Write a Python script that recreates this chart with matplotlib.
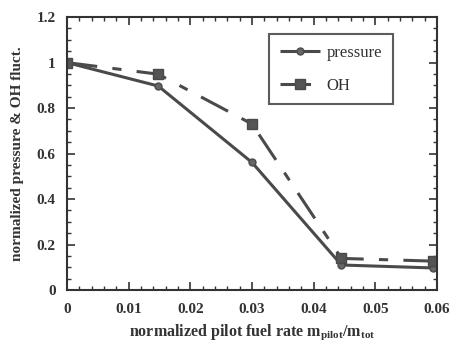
import matplotlib
matplotlib.use("Agg")
import matplotlib.pyplot as plt
from matplotlib.ticker import MultipleLocator

x_pressure = [0.0, 0.0148, 0.0300, 0.0445, 0.0594]
y_pressure = [1.0, 0.897, 0.561, 0.110, 0.097]
x_oh = [0.0, 0.0148, 0.0300, 0.0445, 0.0594]
y_oh = [1.0, 0.949, 0.730, 0.139, 0.127]

plt.rcParams['font.family'] = ['Liberation Serif', 'DejaVu Serif']
plt.rcParams['font.weight'] = 'bold'

fig = plt.figure(figsize=(4.52, 3.42), dpi=100)
ax = fig.add_axes([0.148, 0.152, 0.819, 0.798])

c = '#4a4a4a'
ax.plot(x_pressure, y_pressure, color=c, lw=2.2, marker='o', ms=5,
        mfc='#666666', mec=c, label='pressure', solid_capstyle='butt')
ax.plot(x_oh, y_oh, color=c, lw=2.2, marker='s', ms=7, mfc='#555555', mec=c,
        dashes=(10, 5, 3, 5), label='OH')

ax.set_xlim(0, 0.06)
ax.set_ylim(0, 1.2)
ax.xaxis.set_minor_locator(MultipleLocator(0.002))
ax.yaxis.set_minor_locator(MultipleLocator(0.05))
ax.set_xticks([0, 0.01, 0.02, 0.03, 0.04, 0.05, 0.06])
ax.set_xticklabels(['0', '0.01', '0.02', '0.03', '0.04', '0.05', '0.06'])
ax.set_yticks([0, 0.2, 0.4, 0.6, 0.8, 1.0, 1.2])
ax.set_yticklabels(['0', '0.2', '0.4', '0.6', '0.8', '1', '1.2'])
ax.tick_params(which='both', direction='in', top=True, right=True, colors='#333333',
               labelsize=11, labelcolor='#333333')
ax.tick_params(which='major', length=6, width=1.2)
ax.tick_params(axis='x', which='major', pad=9)
ax.tick_params(axis='y', which='major', pad=8)
ax.tick_params(which='minor', length=3, width=1)
for s in ax.spines.values():
    s.set_linewidth(1.5)
    s.set_color('#333333')

ax.set_xlabel('normalized pilot fuel rate m$_{\\mathregular{pilot}}$/m$_{\\mathregular{tot}}$',
              fontsize=11.5, fontweight='bold', color='#333333', labelpad=5)
ax.set_ylabel('normalized pressure & OH fluct.', fontsize=11, fontweight='bold',
              color='#333333', labelpad=9)

leg = ax.legend(loc='upper left', bbox_to_anchor=(269 / 452, 1 - 34 / 342),
                bbox_transform=fig.transFigure, fontsize=12,
                frameon=True, fancybox=False, edgecolor='#333333', handlelength=2.4,
                labelspacing=1.0, borderpad=0.65, handletextpad=0.4, borderaxespad=0)
leg.get_frame().set_linewidth(1.5)
for t in leg.get_texts():
    t.set_fontweight('normal')
    t.set_color('#333333')

fig.savefig('out.png', dpi=100)
